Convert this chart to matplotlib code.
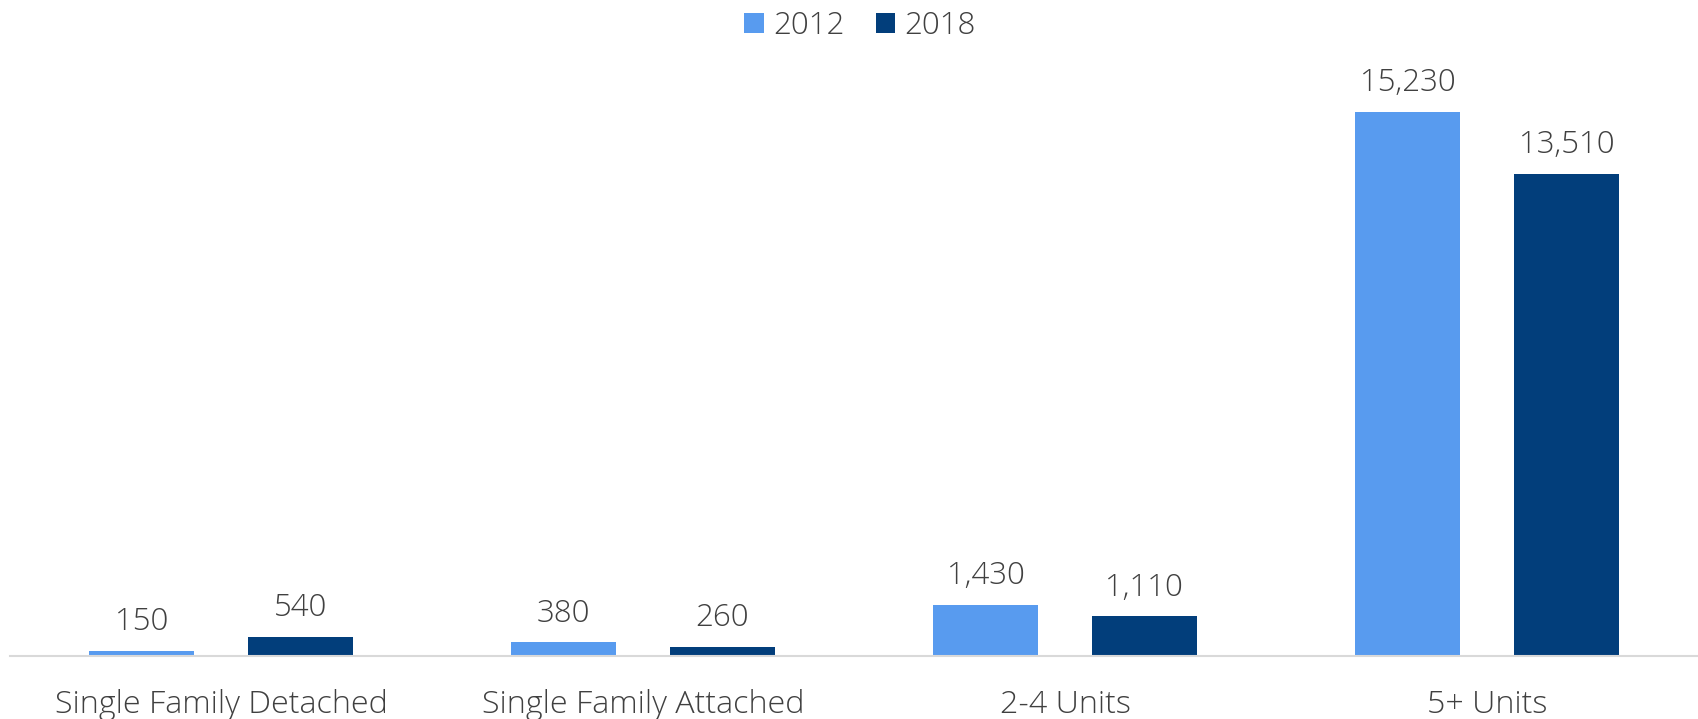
import matplotlib
matplotlib.use("Agg")
import matplotlib.pyplot as plt
import numpy as np

categories = ["Single Family Detached", "Single Family Attached", "2-4 Units", "5+ Units"]
series_names = ["2012", "2018"]
values_2012 = [150, 380, 1430, 15230]
values_2018 = [540, 260, 1110, 13510]

colors = ["#589BEF", "#023E7B"]
text_color = "#404040"

plt.rcParams['font.family'] = ['Open Sans', 'DejaVu Sans']
plt.rcParams['font.weight'] = 'light'

fig = plt.figure(figsize=(16.98, 7.19), dpi=100)
ax = fig.add_axes([10/1698, 1 - 656/719, 1 - 10/1698, 607/719])

x = np.arange(len(categories))
w = 0.249
off = 0.188
for vals, dx, c, name in [(values_2012, -off, colors[0], series_names[0]),
                          (values_2018, off, colors[1], series_names[1])]:
    bars = ax.bar(x + dx, vals, width=w, color=c, label=name, zorder=2)
    for b, v in zip(bars, vals):
        ax.annotate(f"{v:,}", (b.get_x() + b.get_width() / 2, b.get_height()),
                    xytext=(0, 15), textcoords="offset points",
                    ha="center", va="baseline", fontsize=22.5, color=text_color,
                    fontweight='light')

ax.set_xlim(-0.5, len(categories) - 0.5)
ax.set_ylim(0, 17000)
ax.set_yticks([])
ax.set_xticks(x)
ax.set_xticklabels(categories, fontsize=23.2, color=text_color, fontweight='light')
ax.tick_params(axis='x', length=0, pad=24)
for s in ["top", "right", "left"]:
    ax.spines[s].set_visible(False)
ax.spines["bottom"].set_color("#D9D9D9")
ax.spines["bottom"].set_linewidth(1.5)

leg = fig.legend(loc="center", bbox_to_anchor=(860/1698, 1 - 26/719), ncol=2,
                 frameon=False, fontsize=22, handlelength=0.62, handleheight=0.62,
                 handletextpad=0.3, columnspacing=1.0, labelcolor=text_color,
                 prop={'weight': 'light', 'size': 22.5})

fig.savefig("out.png", dpi=100)
